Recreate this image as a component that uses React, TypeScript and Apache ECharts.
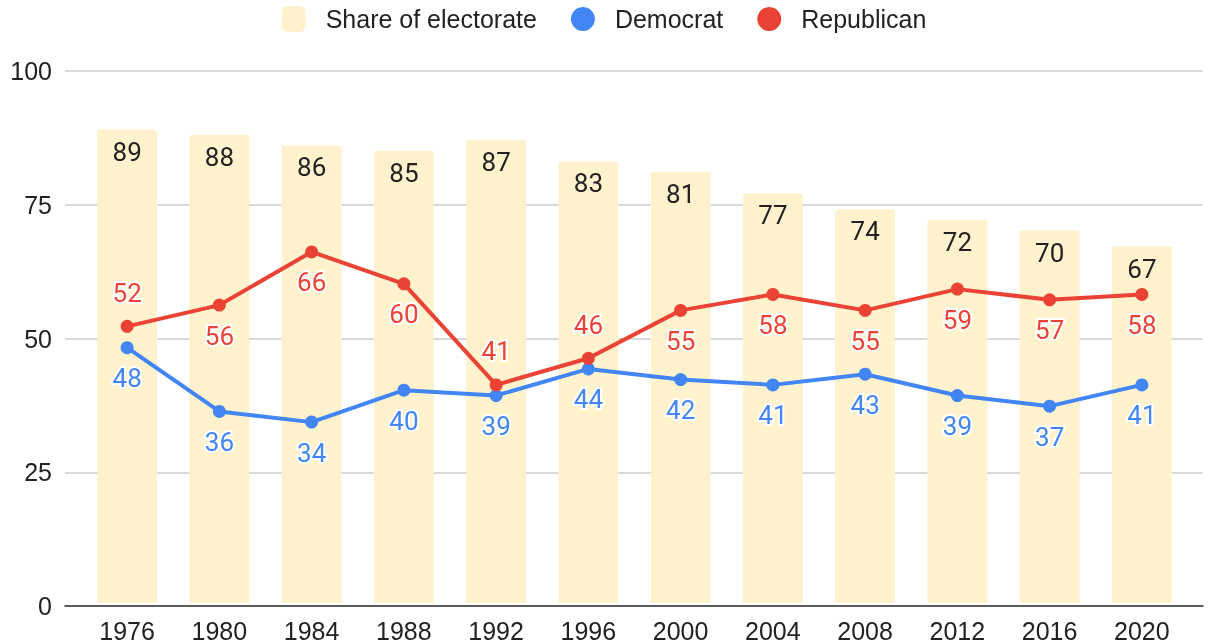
import React, { useEffect, useRef } from "react";
import * as echarts from "echarts";

const years = ["1976", "1980", "1984", "1988", "1992", "1996", "2000", "2004", "2008", "2012", "2016", "2020"];
const shareOfElectorate = [89, 88, 86, 85, 87, 83, 81, 77, 74, 72, 70, 67];
const democrat = [48, 36, 34, 40, 39, 44, 42, 41, 43, 39, 37, 41];
const republican = [52, 56, 66, 60, 41, 46, 55, 58, 55, 59, 57, 58];
const yTicks = [0, 25, 50, 75, 100];
// indices of Republican points whose label sits above the point
const republicanLabelAbove = [0, 4, 5];

const SANS = "'Liberation Sans', Arial, sans-serif";
const ROBOTO = "Roboto, 'Liberation Sans', sans-serif";

export default function App() {
  const ref = useRef<HTMLDivElement>(null);

  useEffect(() => {
    document.body.style.margin = "0";
    const chart = echarts.init(ref.current!, null, { renderer: "svg" });
    const lineLabel = (color: string) => ({
      show: true,
      position: "bottom" as const,
      distance: 11,
      color,
      fontFamily: ROBOTO,
      fontSize: 26,
      textBorderColor: "#fff",
      textBorderWidth: 4,
    });
    chart.setOption({
      animation: false,
      legend: {
        top: 1,
        left: "center",
        itemWidth: 24,
        itemHeight: 26,
        itemGap: 34,
        textStyle: { fontFamily: SANS, fontSize: 25, color: "#222", padding: [0, 0, 0, 15] },
        data: [
          { name: "Share of electorate", icon: "roundRect" },
          { name: "Democrat", icon: "circle" },
          { name: "Republican", icon: "circle" },
        ],
      },
      grid: [
        { left: 65, right: 5, top: 71, bottom: 37 },
        { left: 81, right: 20, top: 71, bottom: 37 },
      ],
      xAxis: [
        {
          type: "value",
          gridIndex: 0,
          min: 0,
          max: 1,
          axisLine: { show: true, lineStyle: { color: "#333", width: 1.5 } },
          axisTick: { show: false },
          axisLabel: { show: false },
          splitLine: { show: false },
        },
        {
          type: "category",
          gridIndex: 1,
          data: years,
          axisLine: { show: false },
          axisTick: { show: false },
          axisLabel: { fontFamily: SANS, fontSize: 25, color: "#222", margin: 15 },
        },
      ],
      yAxis: [
        {
          type: "value",
          gridIndex: 0,
          min: yTicks[0],
          max: yTicks[yTicks.length - 1],
          interval: 25,
          axisLine: { show: false },
          axisTick: { show: false },
          axisLabel: { fontFamily: SANS, fontSize: 25, color: "#222", margin: 13 },
          splitLine: { lineStyle: { color: "#ccc", width: 1.5 } },
        },
        {
          type: "value",
          gridIndex: 1,
          min: 0,
          max: 100,
          interval: 25,
          axisLine: { show: false },
          axisTick: { show: false },
          axisLabel: { show: false },
          splitLine: { show: false },
        },
      ],
      series: [
        {
          name: "Share of electorate",
          type: "bar",
          xAxisIndex: 1,
          yAxisIndex: 1,
          data: shareOfElectorate,
          barWidth: 60,
          itemStyle: { color: "#FFF2CC", borderRadius: [3, 3, 0, 0] },
          label: {
            show: true,
            position: "insideTop",
            distance: 9,
            color: "#222",
            fontFamily: ROBOTO,
            fontSize: 26,
          },
        },
        {
          name: "Democrat",
          type: "line",
          xAxisIndex: 1,
          yAxisIndex: 1,
          data: democrat,
          symbol: "circle",
          symbolSize: 13,
          color: "#4285F4",
          lineStyle: { width: 4, color: "#4285F4" },
          itemStyle: { color: "#4285F4" },
          label: lineLabel("#4285F4"),
          z: 3,
        },
        {
          name: "Republican",
          type: "line",
          xAxisIndex: 1,
          yAxisIndex: 1,
          data: republican.map((v, i) =>
            republicanLabelAbove.includes(i) ? { value: v, label: { position: "top", distance: 14 } } : v
          ),
          symbol: "circle",
          symbolSize: 13,
          color: "#EA4335",
          lineStyle: { width: 4, color: "#EA4335" },
          itemStyle: { color: "#EA4335" },
          label: lineLabel("#EA4335"),
          z: 4,
        },
      ],
    });
    return () => chart.dispose();
  }, []);

  return <div ref={ref} style={{ position: "fixed", left: 0, top: 0, width: 1208, height: 643 }} />;
}
